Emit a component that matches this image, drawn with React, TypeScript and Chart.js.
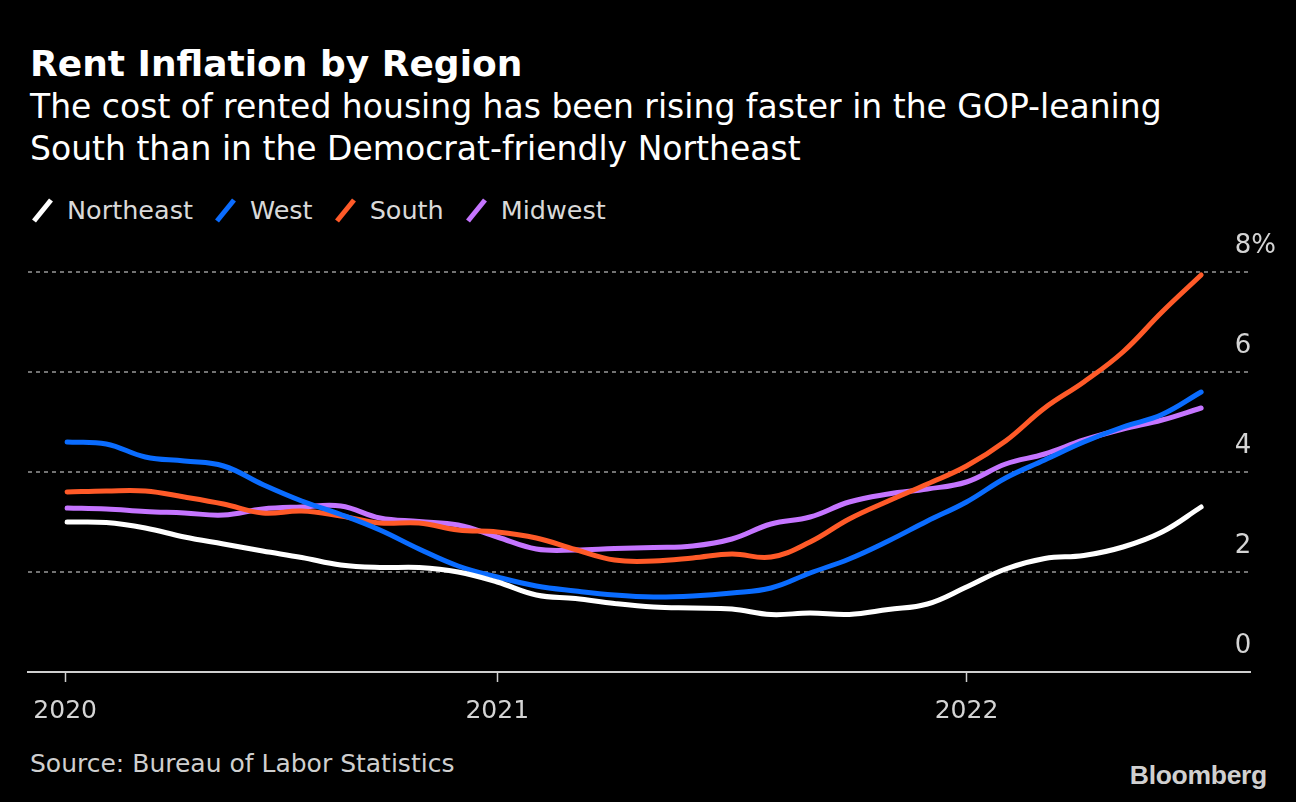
import React, { useEffect, useRef } from 'react';
import { Chart, registerables } from 'chart.js';

Chart.register(...registerables);

// Month index counted from Jan 2020 = 0 (data runs Feb 2020 .. Jul 2022)
const monthIndex = [1, 2, 3, 4, 5, 6, 7, 8, 9, 10, 11, 12, 13, 14, 15, 16, 17, 18, 19, 20, 21, 22, 23, 24, 25, 26, 27, 28, 29, 30];

const northeast = [3.0, 2.99, 2.88, 2.7, 2.56, 2.42, 2.29, 2.14, 2.09, 2.09, 2.0, 1.8, 1.54, 1.47, 1.37, 1.3, 1.28, 1.26, 1.15, 1.18, 1.15, 1.25, 1.36, 1.7, 2.06, 2.27, 2.33, 2.5, 2.8, 3.3];
const west = [4.6, 4.56, 4.3, 4.22, 4.12, 3.75, 3.42, 3.15, 2.84, 2.46, 2.12, 1.9, 1.72, 1.62, 1.54, 1.5, 1.52, 1.58, 1.68, 1.98, 2.26, 2.62, 3.02, 3.4, 3.88, 4.24, 4.6, 4.9, 5.15, 5.6];
const south = [3.6, 3.62, 3.62, 3.5, 3.36, 3.18, 3.22, 3.12, 2.98, 2.98, 2.84, 2.8, 2.68, 2.45, 2.24, 2.22, 2.28, 2.36, 2.3, 2.6, 3.06, 3.42, 3.76, 4.12, 4.62, 5.28, 5.8, 6.4, 7.2, 7.94];
const midwest = [3.28, 3.26, 3.21, 3.18, 3.14, 3.26, 3.3, 3.32, 3.08, 3.01, 2.94, 2.7, 2.46, 2.44, 2.47, 2.49, 2.52, 2.66, 2.96, 3.1, 3.4, 3.56, 3.66, 3.8, 4.16, 4.36, 4.64, 4.86, 5.04, 5.28];

const seriesNames = ['Northeast', 'West', 'South', 'Midwest'];
const seriesValues = [northeast, west, south, midwest];
const seriesColors = ['#ffffff', '#0a6cff', '#ff5a28', '#c575ff'];

const xTickValues = [0.95, 12, 24];
const xTickLabels = ['2020', '2021', '2022'];
const yTickValues = [0, 2, 4, 6, 8];
const yTickLabels = ['0', '2', '4', '6', '8%'];

const FONT = '"DejaVu Sans", sans-serif';

export default function App() {
  const canvasRef = useRef<HTMLCanvasElement>(null);

  useEffect(() => {
    const prevBg = document.body.style.background;
    document.body.style.background = '#000';
    const chart = new Chart(canvasRef.current as HTMLCanvasElement, {
      type: 'line',
      data: {
        datasets: seriesNames.map((name, k) => ({
          label: name,
          data: monthIndex.map((m, i) => ({ x: m, y: seriesValues[k][i] })),
          borderColor: seriesColors[k],
          backgroundColor: seriesColors[k],
          borderWidth: 5,
          tension: 0.4,
          pointRadius: 0,
          borderCapStyle: 'round',
          borderJoinStyle: 'round',
          fill: false,
          clip: false,
        })),
      },
      options: {
        animation: false,
        responsive: false,
        layout: { padding: { top: 52, bottom: 8, left: 28, right: 46 } },
        plugins: { legend: { display: false }, tooltip: { enabled: false } },
        scales: {
          x: {
            type: 'linear',
            min: 0,
            max: 31.25,
            afterFit: (s: any) => { s.height = 60; },
            afterBuildTicks: (s: any) => { s.ticks = xTickValues.map((v) => ({ value: v })); },
            grid: { drawOnChartArea: false, drawTicks: true, tickLength: 10, tickColor: '#cfcfcf', tickWidth: 1.5 },
            border: { color: '#cfcfcf', width: 2 },
            ticks: {
              autoSkip: false,
              maxRotation: 0,
              padding: 14,
              color: '#d4d4d4',
              font: { family: FONT, size: 25 },
              callback: (_v: any, i: number) => xTickLabels[i],
            },
          },
          y: {
            position: 'right',
            min: 0,
            max: 8,
            afterFit: (s: any) => { s.width = 0; },
            afterBuildTicks: (s: any) => { s.ticks = yTickValues.map((v) => ({ value: v })); },
            grid: {
              drawTicks: false,
              color: (ctx: any) => (ctx.tick && ctx.tick.value === 0 ? 'rgba(0,0,0,0)' : '#727272'),
              lineWidth: 2,
            },
            border: { display: false, dash: [4, 4] },
            ticks: {
              mirror: true,
              crossAlign: 'far',
              padding: 26,
              labelOffset: -26,
              autoSkip: false,
              color: '#d4d4d4',
              font: { family: FONT, size: 26 },
              callback: (_v: any, i: number) => yTickLabels[i],
            },
          },
        },
      } as any,
    });
    return () => {
      chart.destroy();
      document.body.style.background = prevBg;
    };
  }, []);

  const abs = (o: React.CSSProperties): React.CSSProperties => ({ position: 'absolute', margin: 0, whiteSpace: 'nowrap', ...o });

  return (
    <div style={{ position: 'fixed', left: 0, top: 0, width: 1296, height: 802, background: '#000', overflow: 'hidden', fontFamily: FONT }}>
      <div style={abs({ left: 30, top: 45.5, fontSize: 36, lineHeight: '36px', fontWeight: 'bold', color: '#fff' })}>
        Rent Inflation by Region
      </div>
      <div style={abs({ left: 30, top: 86, fontSize: 33, lineHeight: '42px', color: '#fff' })}>
        The cost of rented housing has been rising faster in the GOP-leaning
        <br />
        South than in the Democrat-friendly Northeast
      </div>
      <div style={abs({ left: 30, top: 195, display: 'flex', alignItems: 'center', fontSize: 25.5, lineHeight: '30px', color: '#d9d9d9' })}>
        {seriesNames.map((name, k) => (
          <div key={name} style={{ display: 'flex', alignItems: 'center', marginRight: 20 }}>
            <svg width={26} height={28} style={{ marginRight: 11, display: 'block' }}>
              <line x1={4} y1={25} x2={21} y2={4} stroke={seriesColors[k]} strokeWidth={5} />
            </svg>
            <span>{name}</span>
          </div>
        ))}
      </div>
      <canvas ref={canvasRef} width={1296} height={520} style={{ position: 'absolute', left: 0, top: 220, display: 'block' }} />
      <div style={abs({ left: 30, top: 749, fontSize: 25, lineHeight: '30px', color: '#cfcfcf' })}>
        Source: Bureau of Labor Statistics
      </div>
      <div style={abs({ right: 29, top: 760, fontSize: 26.5, lineHeight: '30px', fontWeight: 'bold', color: '#d0d0d0', fontFamily: '"Liberation Sans", Arial, sans-serif', letterSpacing: -0.3 })}>
        Bloomberg
      </div>
    </div>
  );
}
